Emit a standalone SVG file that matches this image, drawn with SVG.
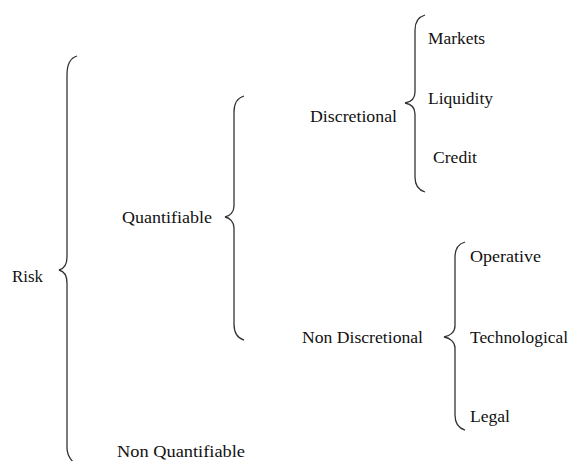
<svg xmlns="http://www.w3.org/2000/svg" width="572" height="461" viewBox="0 0 572 461">
<style>
text{font-family:"Liberation Serif","Times New Roman",serif;font-size:16px;fill:#111}
.b{fill:none;stroke:#333;stroke-width:1.3}
</style>
<rect width="572" height="461" fill="#fff"/>
<g id="connectors">
<path class="b" d="M77,56 C70,58 67,64 67,75 L67,257 C67,265 63,269 59,270 C63,271 67,275 67,283 L67,448 C67,455 70,459 74,463"/>
<path class="b" d="M244,96 C237,98 234,103 234,112 L234,206 C234,212 230,216 225,217 C230,218 234,222 234,228 L234,324 C234,333 237,338 244,340"/>
<path class="b" d="M425,15 C418,17 415,22 415,30 L415,92 C415,98 411,102 405,103 C411,104 415,108 415,114 L415,177 C415,185 418,190 425,192"/>
<path class="b" d="M465,242 C458,244 455,249 455,257 L455,326 C455,332 450,336 444,337 C450,338 455,342 455,348 L455,415 C455,423 458,428 465,430"/>
</g>
<g id="risk"><text x="12" y="282" textLength="31" lengthAdjust="spacingAndGlyphs">Risk</text></g>
<g id="quantifiable"><text x="122" y="223" textLength="90" lengthAdjust="spacingAndGlyphs">Quantifiable</text></g>
<g id="non-quantifiable"><text x="117" y="457" textLength="128" lengthAdjust="spacingAndGlyphs">Non Quantifiable</text></g>
<g id="discretional"><text x="310" y="122" textLength="87" lengthAdjust="spacingAndGlyphs">Discretional</text></g>
<g id="non-discretional"><text x="302" y="343" textLength="121" lengthAdjust="spacingAndGlyphs">Non Discretional</text></g>
<g id="markets"><text x="428" y="44" textLength="57" lengthAdjust="spacingAndGlyphs">Markets</text></g>
<g id="liquidity"><text x="428" y="104" textLength="65" lengthAdjust="spacingAndGlyphs">Liquidity</text></g>
<g id="credit"><text x="433" y="163" textLength="44" lengthAdjust="spacingAndGlyphs">Credit</text></g>
<g id="operative"><text x="470" y="262" textLength="71" lengthAdjust="spacingAndGlyphs">Operative</text></g>
<g id="technological"><text x="470" y="343" textLength="98" lengthAdjust="spacingAndGlyphs">Technological</text></g>
<g id="legal"><text x="470" y="422" textLength="40" lengthAdjust="spacingAndGlyphs">Legal</text></g>
</svg>
